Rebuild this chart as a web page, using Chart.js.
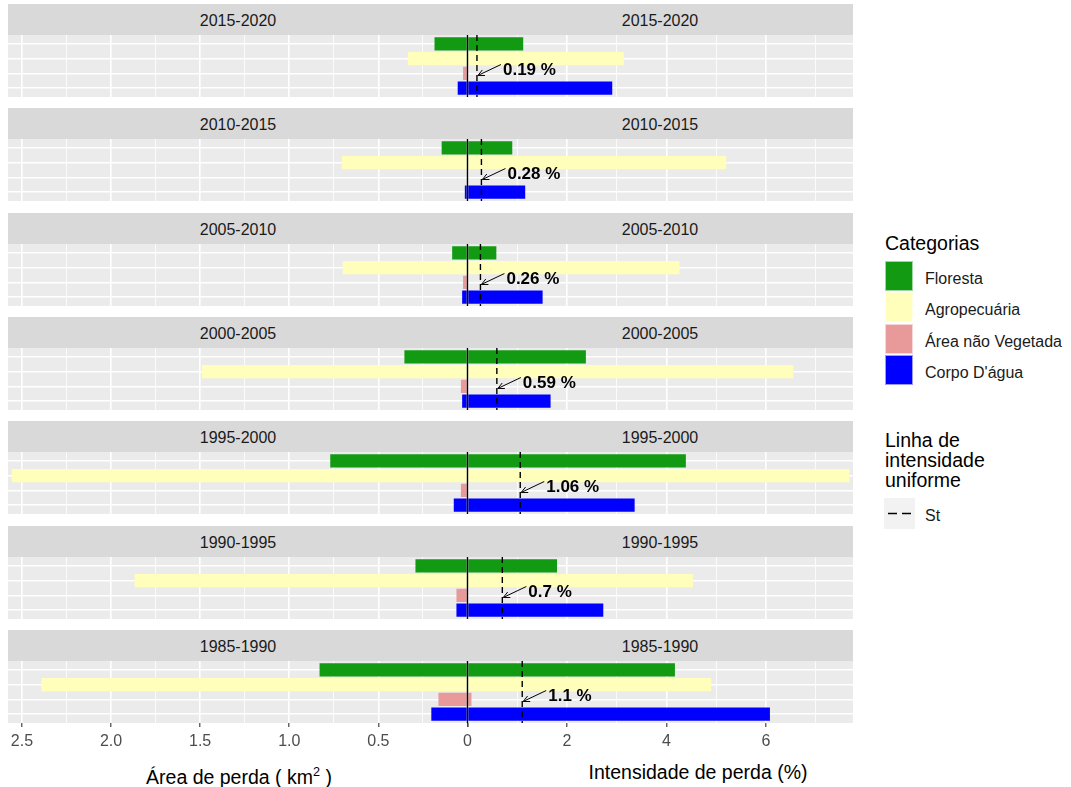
<!DOCTYPE html>
<html>
<head>
<meta charset="utf-8">
<script src="https://cdn.jsdelivr.net/npm/chart.js@4.4.1/dist/chart.umd.min.js"></script>
<style>
  body { margin: 0; background: #fff; font-family: 'Liberation Sans', Arial, sans-serif; }
  #wrap { position: relative; width: 1071px; height: 787px; overflow: hidden; }
  .strip { position: absolute; left: 8px; width: 845px; height: 31px; background: #d9d9d9; color: #1a1a1a; font-size: 16px; }
  .strip span { position: absolute; top: 1px; line-height: 31px; transform: translateX(-50%); white-space: nowrap; }
  .row { position: absolute; left: 0; width: 860px; }
  .axtitle { position: absolute; top: 760px; font-size: 19.5px; color: #000; transform: translateX(-50%); white-space: nowrap; line-height: 24px; }
  .axtitle sup { font-size: 0.65em; }
  .lg-title { position: absolute; left: 885px; font-size: 19.5px; color: #000; line-height: 20px; }
  .lg-key { position: absolute; left: 885px; width: 28px; height: 30px; }
  .lg-text { position: absolute; left: 925px; font-size: 16px; color: #1a1a1a; line-height: 20px; white-space: nowrap; }
</style>
</head>
<body>
<div id="wrap"></div>
<script>
const periods = ['2015-2020', '2010-2015', '2005-2010', '2000-2005', '1995-2000', '1990-1995', '1985-1990'];
const categories = ['Floresta', 'Agropecuária', 'Área não Vegetada', "Corpo D'água"];
const catColors = ['#129a12', '#ffffbb', '#e89a9a', '#0000ff'];

// área de perda (km²), um valor por período
const areaFloresta = [0.185, 0.145, 0.086, 0.354, 0.77, 0.292, 0.83];
const areaAgro     = [0.335, 0.705, 0.70, 1.49, 2.557, 1.868, 2.39];
const areaNaoVeg   = [0.025, 0.005, 0.025, 0.037, 0.037, 0.062, 0.163];
const areaAgua     = [0.055, 0.015, 0.03, 0.03, 0.077, 0.062, 0.203];

// intensidade de perda (%)
const intFloresta = [1.12, 0.90, 0.58, 2.38, 4.39, 1.80, 4.17];
const intAgro     = [3.14, 5.20, 4.26, 6.55, 7.68, 4.53, 4.90];
const intNaoVeg   = [0, 0, 0, 0, 0, 0, 0.08];
const intAgua     = [2.91, 1.16, 1.51, 1.67, 3.36, 2.73, 6.08];

// linha de intensidade uniforme (St)
const intUniforme = [0.19, 0.28, 0.26, 0.59, 1.06, 0.7, 1.1];

// eixos
const areaBreaks = [0, 0.5, 1, 1.5, 2, 2.5];
const areaMinor  = [0.25, 0.75, 1.25, 1.75, 2.25];
const intBreaks  = [0, 2, 4, 6];
const intMinor   = [1, 3, 5, 7];
const areaMax = 2.578;
const intMax = 7.75;

const areaRows = [areaFloresta, areaAgro, areaNaoVeg, areaAgua];
const intRows = [intFloresta, intAgro, intNaoVeg, intAgua];

const FONT = "'Liberation Sans', Arial, sans-serif";
const wrap = document.getElementById('wrap');
const rowStep = 104.33;
const plotH = 62;
const axisH = 35;

const panelBg = {
  id: 'panelBg',
  beforeDraw(chart) {
    const {ctx, chartArea: a} = chart;
    ctx.save();
    ctx.fillStyle = '#ebebeb';
    ctx.fillRect(a.left, a.top, a.right - a.left, a.bottom - a.top);
    ctx.restore();
  }
};

// zero line, St dashed line, arrow and its label
const stMarks = {
  id: 'stMarks',
  afterDatasetsDraw(chart, args, opts) {
    const {ctx, chartArea: a, scales} = chart;
    const x0 = scales.xI.getPixelForValue(0);
    const xs = scales.xI.getPixelForValue(opts.st);
    const y = scales.y;
    ctx.save();
    ctx.strokeStyle = '#000';
    ctx.lineWidth = 1.4;
    ctx.beginPath();
    ctx.moveTo(x0, a.top);
    ctx.lineTo(x0, a.bottom);
    ctx.stroke();
    ctx.setLineDash([6, 4]);
    ctx.beginPath();
    ctx.moveTo(xs, a.top);
    ctx.lineTo(xs, a.bottom);
    ctx.stroke();
    ctx.setLineDash([]);

    const hx = xs + 1, hy = y.getPixelForValue(2.14);
    const tx = xs + 24, ty = y.getPixelForValue(1.4);
    ctx.lineWidth = 1;
    ctx.beginPath();
    ctx.moveTo(tx, ty);
    ctx.lineTo(hx, hy);
    const ang = Math.atan2(ty - hy, tx - hx);
    const len = 7;
    ctx.moveTo(hx + len * Math.cos(ang - 0.45), hy + len * Math.sin(ang - 0.45));
    ctx.lineTo(hx, hy);
    ctx.lineTo(hx + len * Math.cos(ang + 0.45), hy + len * Math.sin(ang + 0.45));
    ctx.stroke();

    ctx.fillStyle = '#000';
    ctx.font = 'bold 17px ' + FONT;
    ctx.textBaseline = 'middle';
    ctx.textAlign = 'left';
    ctx.fillText(opts.label, xs + 26, y.getPixelForValue(1.77));
    ctx.restore();
  }
};

function isIn(list, v) {
  return list.some(b => Math.abs(b - v) < 1e-9);
}

periods.forEach((period, i) => {
  const stripTop = 4 + i * rowStep;
  const plotTop = stripTop + 31;
  const last = i === periods.length - 1;

  const strip = document.createElement('div');
  strip.className = 'strip';
  strip.style.top = stripTop + 'px';
  strip.innerHTML = '<span style="left:230px">' + period + '</span><span style="left:652px">' + period + '</span>';
  wrap.appendChild(strip);

  const row = document.createElement('div');
  row.className = 'row';
  row.style.top = plotTop + 'px';
  const h = plotH + (last ? axisH : 0);
  row.style.height = h + 'px';
  const canvas = document.createElement('canvas');
  row.appendChild(canvas);
  wrap.appendChild(row);

  const areaData = areaRows.map((r, j) => ({x: r[i], y: j}));
  const intData = intRows.map((r, j) => ({x: r[i], y: j}));

  const xCommon = (breaks, minor) => ({
    type: 'linear',
    position: 'bottom',
    stack: 'x',
    border: {display: false},
    grid: {
      color: '#ffffff',
      lineWidth: ctx => isIn(breaks, ctx.tick.value) ? 1.6 : 0.8,
      drawTicks: last,
      tickLength: 4,
      tickWidth: 1.1,
      tickColor: ctx => isIn(breaks, ctx.tick.value) ? '#333333' : 'rgba(0,0,0,0)'
    },
    ticks: {
      display: last,
      autoSkip: false,
      maxRotation: 0,
      padding: 5,
      color: '#4d4d4d',
      font: {family: FONT, size: 16}
    },
    afterBuildTicks: s => {
      s.ticks = breaks.concat(minor).sort((a, b) => a - b).map(v => ({value: v}));
    },
    afterFit: s => {
      s.height = last ? axisH : 0;
      s.paddingLeft = 0;
      s.paddingRight = 0;
    }
  });

  const xA = xCommon(areaBreaks, areaMinor);
  xA.reverse = true;
  xA.min = 0;
  xA.max = areaMax;
  xA.stackWeight = 459.5;
  xA.ticks.callback = v => isIn(areaBreaks, v) ? (v === 0 ? '0' : v.toFixed(1)) : '';

  const xI = xCommon(intBreaks, intMinor);
  xI.min = 0;
  xI.max = intMax;
  xI.stackWeight = 385.5;
  xI.ticks.callback = v => (isIn(intBreaks, v) && v !== 0) ? String(v) : '';

  new Chart(canvas, {
    type: 'bar',
    data: {
      datasets: [
        {
          label: 'Área de perda',
          data: areaData,
          xAxisID: 'xA',
          yAxisID: 'y',
          backgroundColor: catColors,
          borderWidth: 0,
          grouped: false,
          barPercentage: 0.9,
          categoryPercentage: 1
        },
        {
          label: 'Intensidade de perda',
          data: intData,
          xAxisID: 'xI',
          yAxisID: 'y',
          backgroundColor: catColors,
          borderWidth: 0,
          grouped: false,
          barPercentage: 0.9,
          categoryPercentage: 1
        }
      ]
    },
    options: {
      indexAxis: 'y',
      responsive: true,
      maintainAspectRatio: false,
      animation: false,
      layout: {padding: {left: 8, right: 7, top: 0, bottom: 0}},
      scales: {
        xA: xA,
        xI: xI,
        y: {
          type: 'linear',
          min: -0.6,
          max: 3.6,
          reverse: true,
          offset: false,
          border: {display: false},
          grid: {color: '#ffffff', lineWidth: 1.6, drawTicks: false, offset: false},
          ticks: {display: false},
          afterBuildTicks: s => {
            s.ticks = categories.map((c, j) => ({value: j}));
          },
          afterFit: s => {
            s.width = 0;
            s.paddingTop = 0;
            s.paddingBottom = 0;
          }
        }
      },
      plugins: {
        legend: {display: false},
        tooltip: {enabled: false},
        stMarks: {st: intUniforme[i], label: intUniforme[i] + ' %'}
      }
    },
    plugins: [panelBg, stMarks]
  });
});

// axis titles
const t1 = document.createElement('div');
t1.className = 'axtitle';
t1.style.left = '239px';
t1.innerHTML = 'Área de perda ( km<sup>2</sup> )';
wrap.appendChild(t1);
const t2 = document.createElement('div');
t2.className = 'axtitle';
t2.style.left = '698px';
t2.textContent = 'Intensidade de perda (%)';
wrap.appendChild(t2);

// legends
function addDiv(cls, top, html, extra) {
  const d = document.createElement('div');
  d.className = cls;
  d.style.top = top + 'px';
  d.innerHTML = html;
  if (extra) Object.assign(d.style, extra);
  wrap.appendChild(d);
  return d;
}
addDiv('lg-title', 233, 'Categorias');
categories.forEach((c, k) => {
  const top = 261 + k * 31.3;
  addDiv('lg-key', top, '', {background: catColors[k], outline: '1px solid rgba(255,255,255,0.6)', outlineOffset: '-1px'});
  addDiv('lg-text', top + 8, c);
});
addDiv('lg-title', 430, 'Linha de<br>intensidade<br>uniforme');
addDiv('lg-key', 498, '<svg width="31" height="31"><line x1="4" y1="15.5" x2="27" y2="15.5" stroke="#000" stroke-width="1.4" stroke-dasharray="9 5"/></svg>',
  {background: '#f2f2f2', width: '31px', height: '31px', left: '884px'});
addDiv('lg-text', 506, 'St');
</script>
</body>
</html>
